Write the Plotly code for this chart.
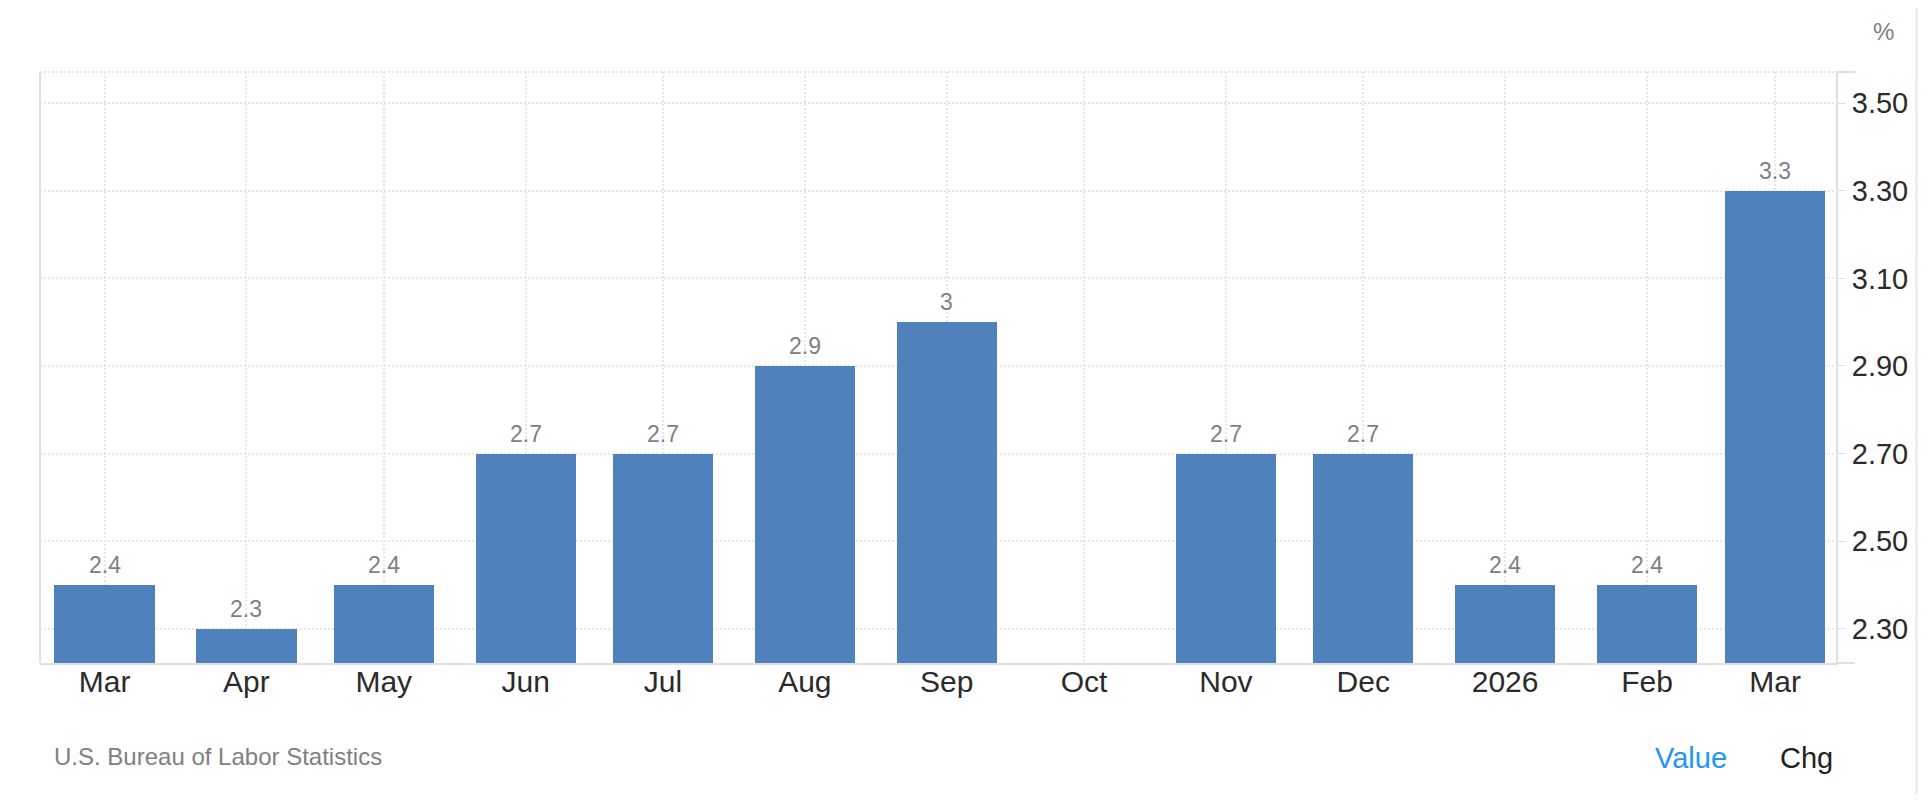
import plotly.graph_objects as go

months = ["2025-03-01", "2025-04-01", "2025-05-01", "2025-06-01", "2025-07-01",
          "2025-08-01", "2025-09-01", "2025-10-01", "2025-11-01", "2025-12-01",
          "2026-01-01", "2026-02-01", "2026-03-01"]
values = [2.4, 2.3, 2.4, 2.7, 2.7, 2.9, 3.0, None, 2.7, 2.7, 2.4, 2.4, 3.3]
tick_labels = ["Mar", "Apr", "May", "Jun", "Jul", "Aug", "Sep", "Oct",
               "Nov", "Dec", "2026", "Feb", "Mar"]
y_ticks = [2.30, 2.50, 2.70, 2.90, 3.10, 3.30, 3.50]

FONT = "Liberation Sans, Arial, Helvetica, sans-serif"
DAY_MS = 86400000
GRID = "#e6e6e6"
AXIS = "#e0e0e0"

fig = go.Figure()
fig.add_trace(go.Bar(
    x=months, y=values,
    width=[21.9 * DAY_MS] * len(months),
    marker=dict(color="#4f81bd", line=dict(width=0)),
    hoverinfo="x+y",
))

for m, v in zip(months, values):
    if v is None:
        continue
    fig.add_annotation(x=m, y=v, xref="x", yref="y", text=f"{v:g}",
                       showarrow=False, yanchor="bottom", yshift=5,
                       font=dict(family=FONT, size=23, color="#7f7f7f"))

fig.update_layout(
    width=1912, height=786,
    margin=dict(l=32, r=82, t=64, b=131),
    paper_bgcolor="white", plot_bgcolor="white",
    showlegend=False,
    bargap=0,
    font=dict(family=FONT),
    xaxis=dict(
        type="date",
        range=["2025-02-14 21:36", "2026-03-14 07:00"],
        tickvals=months, ticktext=tick_labels,
        tickfont=dict(family=FONT, size=30, color="#2b2b2b"),
        ticklabelstandoff=-9,
        showgrid=True, gridcolor=GRID, griddash="2px,2px", gridwidth=2,
        showline=True, linecolor=AXIS, linewidth=2,
        ticks="", zeroline=False,
    ),
    yaxis=dict(
        side="right",
        range=[2.222, 3.571],
        tickvals=y_ticks, ticktext=[f"{t:.2f}" for t in y_ticks],
        tickfont=dict(family=FONT, size=29, color="#2b2b2b"),
        showgrid=True, gridcolor=GRID, griddash="2px,2px", gridwidth=2,
        showline=True, linecolor=AXIS, linewidth=2,
        ticks="outside", ticklen=8, tickcolor=AXIS, tickwidth=1,
        zeroline=False,
    ),
)

# left border (solid) and top border (dotted)
fig.add_shape(type="line", xref="paper", yref="paper", x0=0, x1=0, y0=0, y1=1,
              line=dict(color=AXIS, width=2))
fig.add_shape(type="line", xref="paper", yref="paper", x0=0, x1=1, y0=1, y1=1,
              line=dict(color=GRID, width=2, dash="2px,2px"))
# axis line extensions to the right of the value axis
fig.add_shape(type="line", xref="paper", yref="paper", x0=1, x1=1.0106, y0=0, y1=0,
              line=dict(color=AXIS, width=2))
fig.add_shape(type="line", xref="paper", yref="paper", x0=1, x1=1.0106, y0=1, y1=1,
              line=dict(color=AXIS, width=2))
# page border on right edge
fig.add_shape(type="line", xref="paper", yref="paper", x0=1.0448, x1=1.0448,
              y0=-0.23, y1=1.11, line=dict(color="#e6e6e6", width=2))

fig.add_annotation(text="U.S. Bureau of Labor Statistics", xref="paper", yref="paper",
                   x=0.0065, y=-0.159, xanchor="left", yanchor="middle", showarrow=False,
                   font=dict(family=FONT, size=24, color="#808080"))
fig.add_annotation(text="Value", xref="paper", yref="paper",
                   x=0.898, y=-0.161, xanchor="left", yanchor="middle", showarrow=False,
                   font=dict(family=FONT, size=29, color="#2196f3"))
fig.add_annotation(text="Chg", xref="paper", yref="paper",
                   x=0.9677, y=-0.161, xanchor="left", yanchor="middle", showarrow=False,
                   font=dict(family=FONT, size=29, color="#222222"))
fig.add_annotation(text="%", xref="paper", yref="paper",
                   x=1.0195, y=1.069, xanchor="left", yanchor="middle", showarrow=False,
                   font=dict(family=FONT, size=24, color="#808080"))

fig.write_html("out.html")
